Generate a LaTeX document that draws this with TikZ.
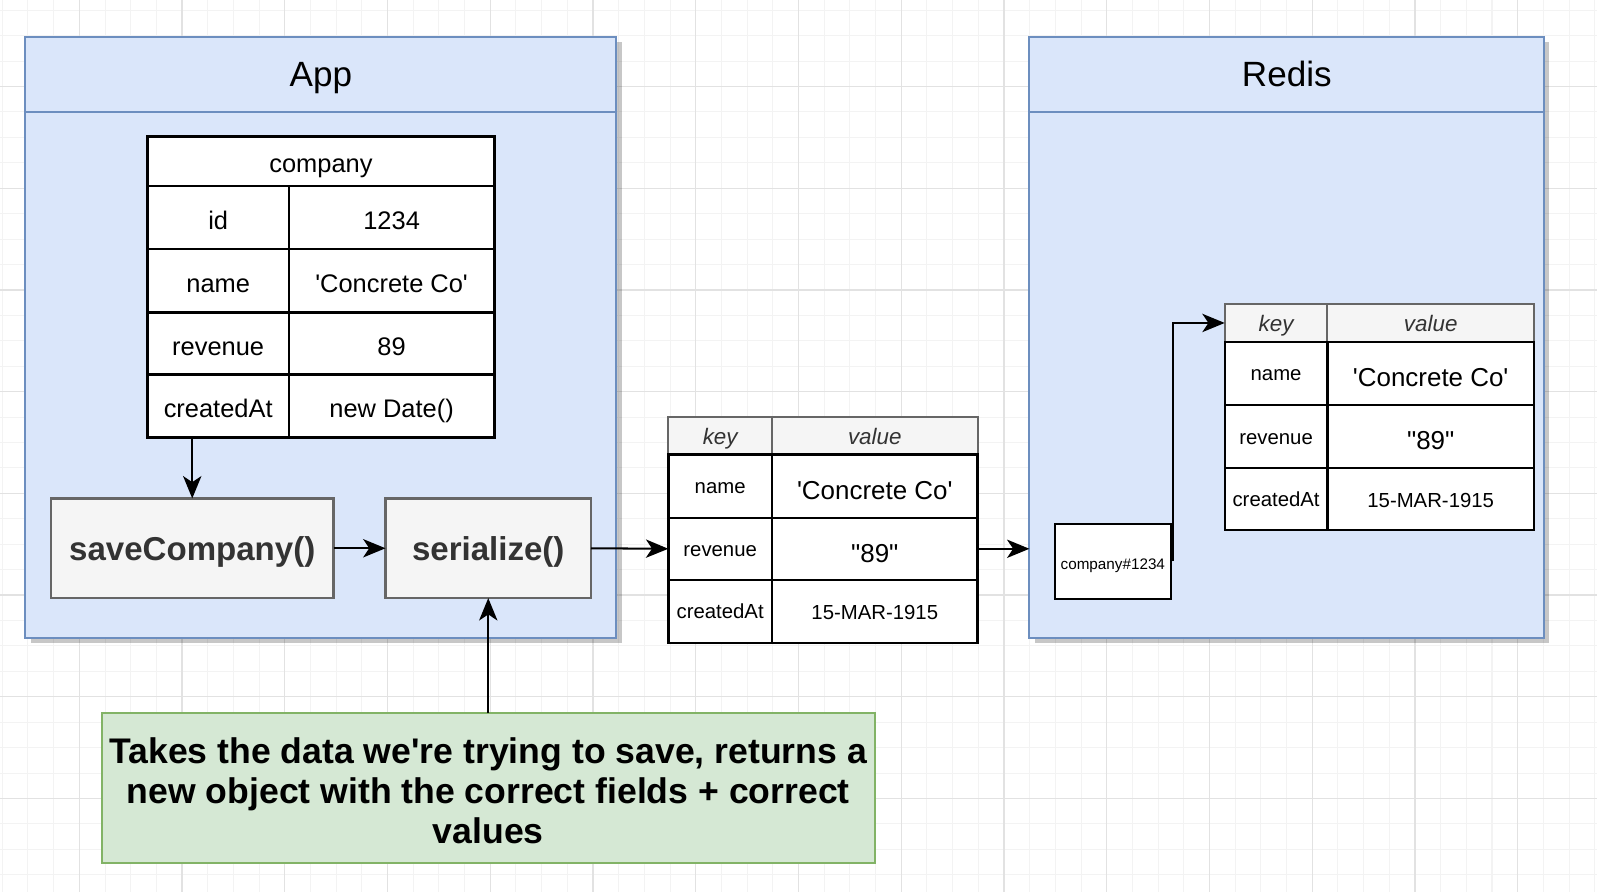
\documentclass[tikz,border=0pt]{standalone}
\usepackage{fontspec}
\setmainfont{Liberation Sans}[Ligatures=TeXOff]
\usetikzlibrary{arrows.meta,calc}
\definecolor{contfill}{HTML}{DAE6FA}
\definecolor{contline}{HTML}{6C8EBF}
\definecolor{fnfill}{HTML}{F5F5F5}
\definecolor{fnline}{HTML}{666666}
\definecolor{txtgrey}{HTML}{333333}
\definecolor{gfill}{HTML}{D5E8D4}
\definecolor{gline}{HTML}{82B366}
\definecolor{gridminor}{HTML}{F3F3F3}
\definecolor{gridmajor}{HTML}{E2E2E2}
\newcommand\fsz[2]{\fontsize{#1pt}{#2pt}\selectfont}
% \boxnode{style}{name}{x1}{y1}{x2}{y2}{text}
\newcommand\boxnode[7]{\node[#1, minimum width={#5-#3}, minimum height={#6-#4}, anchor=north west] (#2) at (#3,#4) {#7};}
\begin{document}
\begin{tikzpicture}[x=1pt,y=-1pt,
  box/.style={inner sep=0pt, outer sep=0pt, text depth=0pt},
  cont/.style={box, draw=contline, fill=contfill, line width=2pt, font=\fsz{34.5}{40}, text height=24.8pt},
  shadowbox/.style={fill=black, opacity=0.22},
  cell/.style={box, draw=black, fill=white, line width=2.4pt, font=\fsz{25}{30}, text height=23pt},
  kcell/.style={cell, font=\fsz{20}{24}, text height=15pt},
  vcell/.style={cell, font=\fsz{25.5}{30}, text height=26pt},
  dcell/.style={cell, font=\fsz{20}{24}, text height=16.4pt},
  idcell/.style={cell, font=\fsz{15}{18}, text height=15pt},
  hcell/.style={box, draw=fnline, fill=fnfill, line width=2pt, font=\fsz{22}{26}\itshape, text=txtgrey, text height=16.4pt},
  fn/.style={box, draw=fnline, fill=fnfill, line width=2.4pt, font=\fsz{32.5}{38}\bfseries, text=txtgrey, text height=23.5pt},
  note/.style={inner sep=0pt, outer sep=0pt, draw=gline, fill=gfill, line width=2pt, font=\fsz{35}{39.5}\bfseries, align=center},
  arr/.style={line width=2pt, -{Stealth[length=22pt,width=18pt,inset=6pt]}},
]
\useasboundingbox (0,0) rectangle (1570,877);
\fill[white] (0,0) rectangle (1570,877);
% grid
\foreach \i in {-3,...,59} \draw[gridminor, line width=1pt] ({78+\i*25.25},0) -- ({78+\i*25.25},877);
\foreach \i in {-3,...,36} \draw[gridminor, line width=1pt] (0,{85+\i*25}) -- (1570,{85+\i*25});
\foreach \i in {-1,...,15} \draw[gridmajor, line width=1.2pt] ({78+\i*101},0) -- ({78+\i*101},877);
\foreach \i in {-1,...,8} \draw[gridmajor, line width=1.2pt] (0,{85+\i*100}) -- (1570,{85+\i*100});

% containers
\fill[shadowbox] (30,41) rectangle (611,632);
\fill[shadowbox] (1017,41) rectangle (1523,632);
\boxnode{cont}{apphead}{25}{36}{606}{110}{App}
\boxnode{cont}{appbody}{25}{110}{606}{627}{}
\boxnode{cont}{redishead}{1012}{36}{1518}{110}{Redis}
\boxnode{cont}{redisbody}{1012}{110}{1518}{627}{}

% company table
\boxnode{cell}{chead}{145}{134}{486}{183}{company}
\boxnode{cell}{ck1}{145}{183}{284}{245}{id}
\boxnode{cell}{cv1}{284}{183}{486}{245}{1234}
\boxnode{cell}{ck2}{145}{245}{284}{307}{name}
\boxnode{cell}{cv2}{284}{245}{486}{307}{'Concrete Co'}
\boxnode{cell}{ck3}{145}{307}{284}{368}{revenue}
\boxnode{cell}{cv3}{284}{307}{486}{368}{89}
\boxnode{cell}{ck4}{145}{368}{284}{430}{createdAt}
\boxnode{cell}{cv4}{284}{368}{486}{430}{new Date()}

% functions
\boxnode{fn}{save}{50}{490}{328}{588}{saveCompany()}
\boxnode{fn}{ser}{379}{490}{581}{588}{serialize()}

% middle table
\boxnode{hcell}{mkh}{657}{410}{759}{447}{key}
\boxnode{hcell}{mvh}{759}{410}{961}{447}{value}
\boxnode{kcell}{mk1}{657}{447}{759}{509}{name}
\boxnode{vcell}{mv1}{759}{447}{961}{509}{'Concrete Co'}
\boxnode{kcell}{mk2}{657}{509}{759}{570}{revenue}
\boxnode{vcell}{mv2}{759}{509}{961}{570}{"89"}
\boxnode{kcell}{mk3}{657}{570}{759}{632}{createdAt}
\boxnode{dcell}{mv3}{759}{570}{961}{632}{15-MAR-1915}

% redis key box
\boxnode{idcell}{cbox}{1037}{515}{1151}{589}{company\#1234}

% redis table
\boxnode{hcell}{rkh}{1204}{299}{1305}{336}{key}
\boxnode{hcell}{rvh}{1305}{299}{1508}{336}{value}
\boxnode{kcell}{rk1}{1204}{336}{1305}{398}{name}
\boxnode{vcell}{rv1}{1305}{336}{1508}{398}{'Concrete Co'}
\boxnode{kcell}{rk2}{1204}{398}{1305}{460}{revenue}
\boxnode{vcell}{rv2}{1305}{398}{1508}{460}{"89"}
\boxnode{kcell}{rk3}{1204}{460}{1305}{521}{createdAt}
\boxnode{dcell}{rv3}{1305}{460}{1508}{521}{15-MAR-1915}

% note
\boxnode{note}{note}{100}{701}{860}{848}{\raisebox{-3pt}[\height][\depth]{\parbox{750pt}{\centering Takes the data we're trying to save, returns a\\new object with the correct fields + correct\\values}}}

% connectors
\draw[arr] (save.north |- ck4.south) -- (save.north);
\draw[arr] (save.east) -- (ser.west);
\draw[arr] (ser.east) -- (mk2.west);
\draw[arr] (mv2.east) -- (mv2.east -| redisbody.west);
\draw[arr] ([xshift=2pt]cbox.east) |- (rkh.west);
\draw[arr] (note.north) -- (ser.south);
\end{tikzpicture}
\end{document}
